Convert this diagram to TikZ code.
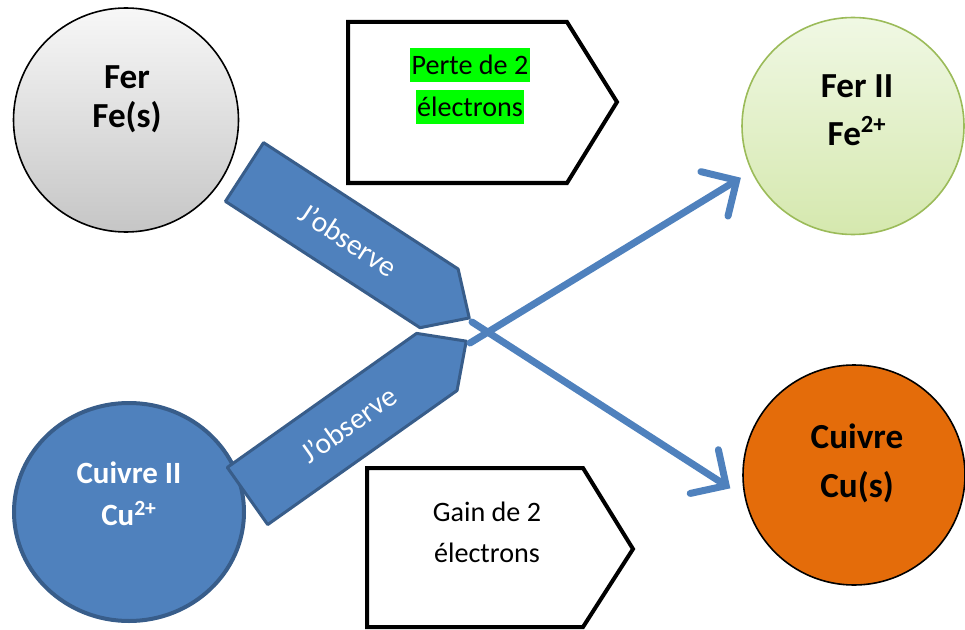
\documentclass[tikz,border=0pt]{standalone}
\usepackage{fontspec}
\setmainfont{Carlito}
\usetikzlibrary{arrows.meta,calc,shapes.geometric}
\definecolor{obsblue}{HTML}{4F81BD}
\definecolor{obsedge}{HTML}{385D8A}
\definecolor{fetop}{HTML}{F0F8E4}
\definecolor{febot}{HTML}{D5E8AE}
\definecolor{fegreen}{HTML}{9BBB59}
\definecolor{cuorange}{HTML}{E46C0A}
\definecolor{hlgreen}{HTML}{00FF00}
\def\pxu{0.025cm}
\tikzstyle{ion} = [ellipse, inner sep=0pt, outer sep=0pt]
\tikzstyle{lbl} = [align=center, font=\bfseries\fontsize{25}{28}\selectfont]
\tikzstyle{txt} = [inner xsep=1pt, inner ysep=0pt, text height=19pt,
    text depth=5.5pt, font=\fontsize{20}{24}\selectfont]
\tikzstyle{reac} = [draw=black, line width=0.1cm, fill=white]
\tikzstyle{obs} = [fill=obsblue, draw=obsedge, line width=0.075cm, line join=round]
\tikzstyle{obstxt} = [white, transform shape, font=\fontsize{21}{24}\selectfont]
\tikzstyle{goes} = [->, draw=obsblue, line width=0.175cm, line cap=round]
\tikzset{>={Straight Barb[length=0.65cm,width=1.3cm,line width=0.175cm,line cap=round]}}

\begin{document}
\begin{tikzpicture}[x=\pxu, y=-\pxu]
\useasboundingbox (0,0) rectangle (965,630);
    %the four species
    \node[ion, draw=black, line width=0.04cm, top color=gray!6, bottom color=gray!45,
        minimum width=225*\pxu, minimum height=224*\pxu] (fe) at (126,120) {};
    \node[ion, draw=fegreen, line width=0.04cm, top color=fetop, bottom color=febot,
        minimum width=222*\pxu, minimum height=217*\pxu] (fe2) at (853,126) {};
    \node[ion, draw=obsedge, line width=0.1cm, fill=obsblue,
        minimum width=230*\pxu, minimum height=218*\pxu] (cu2) at (129,512) {};
    \node[ion, draw=black, line width=0.04cm, fill=cuorange,
        minimum width=222*\pxu, minimum height=220*\pxu] (cu) at (854,475) {};
    \node[lbl] (feT) at ($(fe)+(1,-21)$) {Fer\\Fe(s)};
    \node[lbl] (fe2T) at ($(fe2)+(4,-16)$) {Fer II\\[6pt]Fe\textsuperscript{2+}};
    \node[lbl, white, font=\bfseries\fontsize{22}{26}\selectfont] (cu2T)
        at ($(cu2)+(0,-18)$) {Cuivre II\\[4pt]Cu\textsuperscript{2+}};
    \node[lbl] (cuT) at ($(cu)+(3,-12)$) {Cuivre\\[7pt]Cu(s)};
    %electron boxes
    \draw[reac] (348,22) -- (567,22) -- (617,102) -- (567,183) -- (348,183) -- cycle;
    \node[txt, fill=hlgreen] (perte) at (470,65) {Perte de 2};
    \node[txt, fill=hlgreen] (perteB) at (470,107) {électrons};
    \draw[reac] (367,468) -- (583,468) -- (633,549) -- (583,627) -- (367,627) -- cycle;
    \node[txt] (gain) at (487,512) {Gain de 2};
    \node[txt] (gainB) at (487,553) {électrons};
    %observation arrows
    \foreach \tx/\ty/\ang [count=\i] in {244.5/172/-33, 247.5/496/35.3}
    {\begin{scope}[shift={(\tx,\ty)}, rotate=\ang]
        \draw[obs] (0,-35) -- (232,-35) -- (268,0) -- (232,35) -- (0,35) -- cycle;
        \node[obstxt] (obs\i) at (124,0) {J’observe};
    \end{scope}}
    %products
    \coordinate (xa) at (470,343);
    \coordinate (xb) at (472,322);
    \draw[goes, shorten >=0.45cm] (xb) -- (cu.192);
    \draw[goes, shorten >=0.325cm] (xa) -- (fe2.204);
\end{tikzpicture}
\end{document}
